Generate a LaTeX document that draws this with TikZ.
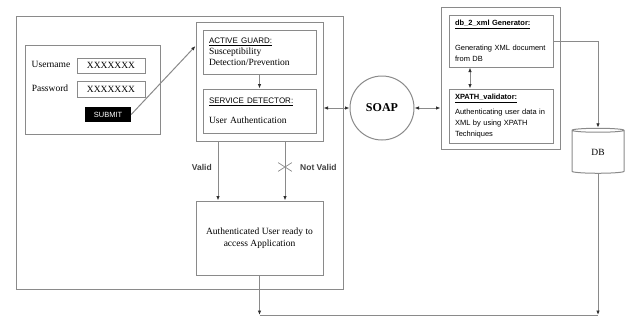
\documentclass[tikz,border=0pt]{standalone}
\usepackage{fontspec}
\setmainfont{Liberation Serif}
\setsansfont{Liberation Sans}
\usetikzlibrary{arrows.meta,positioning,shapes.geometric,shapes.misc}
\definecolor{lngray}{HTML}{8A8A8A}
\definecolor{tipgray}{HTML}{303030}
\tikzset{
  plainbox/.style={draw=lngray,line width=1pt,inner sep=0pt},
  sertext/.style={font=\fontsize{9.5}{11}\selectfont},
  sanstext/.style={font=\sffamily\fontsize{7.5}{11}\selectfont},
  validlbl/.style={font=\sffamily\bfseries\fontsize{8.5}{10}\selectfont,text=black!75,inner sep=1pt},
  conn/.style={draw=lngray,line width=1pt},
  flowarr/.style={conn,-{Latex[length=4.5pt,width=3.5pt,color=tipgray]}},
  bothway/.style={conn,{Latex[length=4.5pt,width=3.5pt,color=tipgray]}-{Latex[length=4.5pt,width=3.5pt,color=tipgray]}},
}

\begin{document}
\begin{tikzpicture}[x=1pt,y=-1pt]
  \useasboundingbox (0,0) rectangle (625,322);
  % client side
  \node[plainbox,minimum width=327pt,minimum height=273pt] (client) at (179.5,152.5) {};
  \node[plainbox,minimum width=135pt,minimum height=89pt] (login) at (92.5,89.5) {};
  \node[sertext] (uname) at (51,64) {Username};
  \node[plainbox,sertext,minimum width=68pt,minimum height=15pt] (unamefld) at (111,65.5) {XXXXXXX};
  \node[sertext] (pword) at (50,88) {Password};
  \node[plainbox,sertext,minimum width=68pt,minimum height=16pt] (pwordfld) at (111,89) {XXXXXXX};
  \node[fill=black,text=white,font=\sffamily\fontsize{7.5}{9}\selectfont,minimum width=46pt,minimum height=15pt,inner sep=0pt] (submit) at (108,114.5) {SUBMIT};
  \node[plainbox,minimum width=127pt,minimum height=119pt] (guardpanel) at (259.5,81.5) {};
  \node[plainbox,sertext,align=left,text width=101pt,inner xsep=6pt,minimum height=44pt] (guard) at (259.5,52)
    {\underline{\sffamily\fontsize{8}{11}\selectfont ACTIVE GUARD:}\\Susceptibility\\Detection/Prevention};
  \node[plainbox,sertext,align=left,text width=101pt,inner xsep=6pt,minimum height=44pt] (detector) at (259.5,111)
    {\underline{\sffamily\fontsize{8}{11}\selectfont SERVICE DETECTOR:}\\[9pt]User Authentication};
  \node[plainbox,font=\fontsize{9.5}{12.5}\selectfont,align=center,minimum width=127pt,minimum height=74pt] (authuser) at (259.5,238)
    {Authenticated User ready to\\access Application};
  \node[validlbl,anchor=east] (validtxt) at (213,167) {Valid};
  \node[validlbl,anchor=west] (notvalidtxt) at (299,167) {Not Valid};
  \node[cross out,draw=lngray,line width=0.7pt,minimum width=13pt,minimum height=8pt,inner sep=0pt] (nvcross) at (285,167) {};
  % soap
  \node[circle,draw=lngray,line width=1pt,minimum size=64pt,font=\bfseries\fontsize{12}{14}\selectfont] (soap) at (382,108) {SOAP};
  % server side
  \node[plainbox,minimum width=119pt,minimum height=142pt] (server) at (500.5,78) {};
  \node[plainbox,sanstext,align=left,text width=92pt,inner xsep=6pt,minimum height=52pt] (dbxml) at (501,41)
    {\underline{\bfseries db\_2\_xml Generator:}\\[14pt]Generating XML document\\from DB};
  \node[plainbox,sanstext,align=left,text width=92pt,inner xsep=6pt,minimum height=54pt] (xpath) at (501,116)
    {\underline{\bfseries XPATH\_validator:}\\[4pt]Authenticating user data in\\XML by using XPATH\\Techniques};
  \node[cylinder,shape border rotate=90,aspect=0.2,draw=lngray,line width=1pt,minimum width=52pt,minimum height=45pt,sertext] (db) at (598,152.5) {DB};
  % connectors
  \coordinate (sbin) at ([yshift=35.5pt]guardpanel.west);
  \coordinate (joinpt) at (0,315);
  \draw[flowarr] (submit.east) -- (sbin);
  \draw[flowarr] (guard) -- (detector);
  \draw[bothway] (guardpanel.east |- soap.west) -- (soap.west);
  \draw[bothway] (soap.east) -- (soap.east -| server.west);
  \draw[bothway] ([xshift=-31pt]dbxml.south) -- ([xshift=-31pt]xpath.north);
  \draw[flowarr] (dbxml.east) -| (db.north);
  \draw[flowarr] ([xshift=-41.5pt]guardpanel.south) -- ([xshift=-41.5pt]authuser.north);
  \draw[flowarr] ([xshift=25.5pt]guardpanel.south) -- ([xshift=25.5pt]authuser.north);
  \draw[flowarr] (authuser.south) -- (authuser.south |- joinpt);
  \draw[flowarr] (db.south) -- (db.south |- joinpt);
  \draw[conn] (authuser.south |- joinpt) -- (db.south |- joinpt);
\end{tikzpicture}
\end{document}
